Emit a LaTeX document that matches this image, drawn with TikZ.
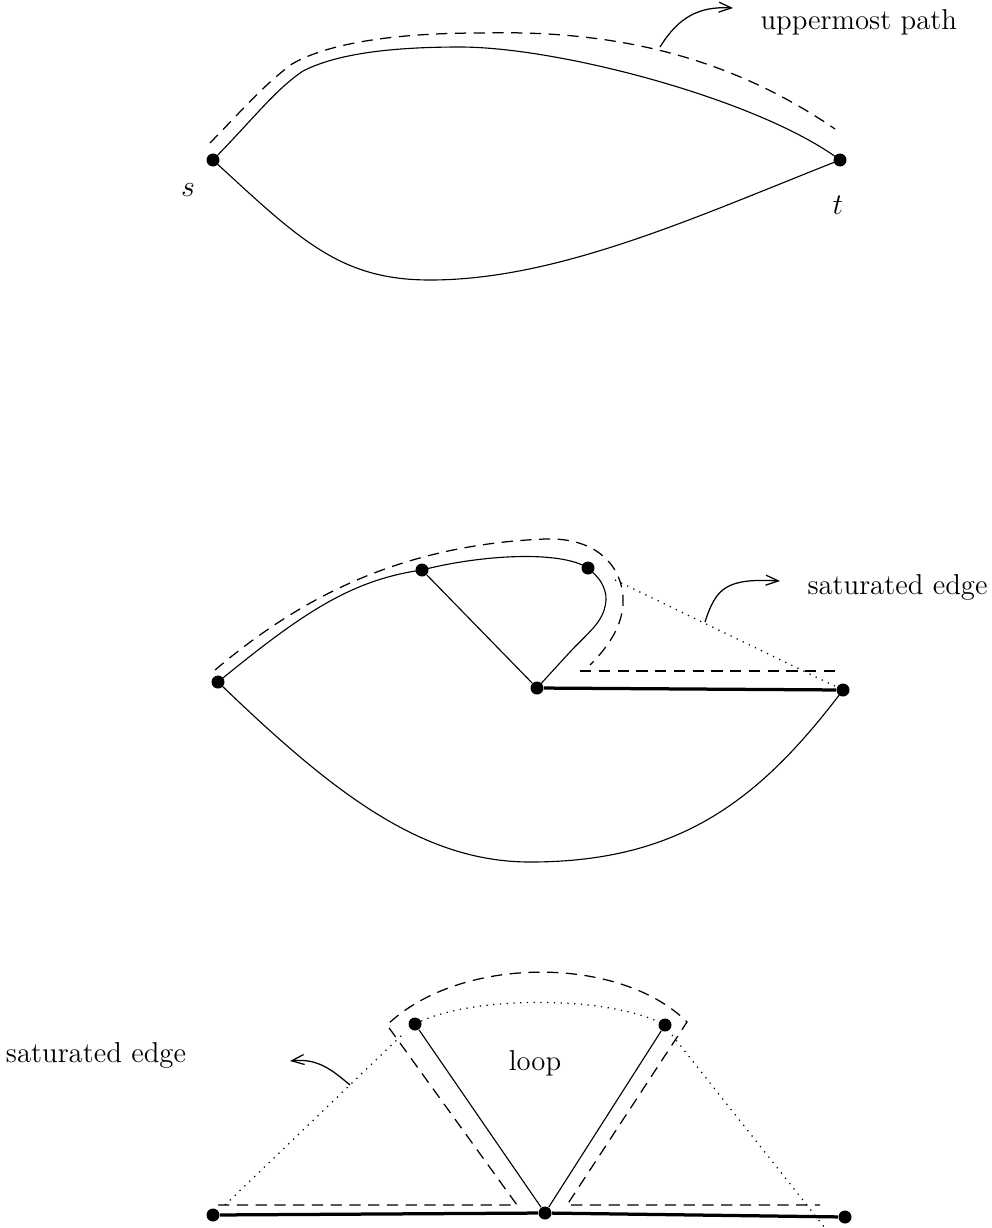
\documentclass[tikz,border=0pt]{standalone}
\usetikzlibrary{arrows.meta}
\begin{document}
\begin{tikzpicture}[x=0.4pt,y=-0.4pt,
  dot/.style={circle,fill=black,inner sep=0pt,minimum size=5.2pt},
  plain/.style={line width=0.45pt},
  heavy/.style={line width=1.3pt},
  dashline/.style={line width=0.5pt,dash pattern=on 4.5pt off 3pt},
  dotline/.style={line width=0.5pt,dash pattern=on 0.5pt off 2.2pt},
  pointer/.style={line width=0.5pt,-{Straight Barb[length=5pt,width=4pt]}},
  lbl/.style={font=\fontsize{11.5}{13}\selectfont,inner sep=0pt}]
\useasboundingbox (0,0) rectangle (992,1228);

% ---------- top diagram ----------
\node[dot] (s) at (213,160) {};
\node[dot] (t) at (840,160) {};
\node[lbl] (sl) at (188,190) {$s$};
\node[lbl] (tl) at (838,205) {$t$};
\draw[plain] (s.center) .. controls (255,117) and (275,90) .. (303,71)
  .. controls (340,52) and (400,47) .. (460,47)
  .. controls (560,47) and (760,100) .. (t.center);
\draw[plain] (s.center) .. controls (300,240) and (340,280) .. (430,280)
  .. controls (560,280) and (700,215) .. (t.center);
\draw[dashline] (210,143) .. controls (245,107) and (265,84) .. (292,64)
  .. controls (330,42) and (400,33) .. (480,33)
  .. controls (600,30) and (720,50) .. (835,129);
\coordinate (p1) at (660,47);
\node[lbl,anchor=west] (up) at (760,22) {uppermost path};
\draw[pointer] (p1) .. controls (678,18) and (698,6) .. (733,8);

% ---------- middle diagram ----------
\node[dot] (s2) at (218,682) {};
\node[dot] (a) at (422,570) {};
\node[dot] (b) at (588,568) {};
\node[dot] (c) at (537,688) {};
\node[dot] (t2) at (843,690) {};
\draw[plain] (s2.center) .. controls (300,615) and (350,580) .. (a.center);
\draw[plain] (a.center) .. controls (480,555) and (560,550) .. (b.center);
\draw[plain] plot[smooth,tension=0.6] coordinates {(b.center) (601,582) (606,600) (598,622) (570,652) (c.center)};
\draw[plain] (a) -- (c);
\draw[heavy] (c) -- (t2);
\draw[plain] (s2.center) .. controls (330,790) and (420,862) .. (530,862)
  .. controls (680,862) and (760,800) .. (t2.center);
\draw[dashline] (215,670) .. controls (300,598) and (400,545) .. (545,539)
  .. controls (600,537) and (625,570) .. (623,605)
  .. controls (621,630) and (605,650) .. (590,665);
\draw[dashline] (580,671) -- (840,671);
\coordinate (d1) at (615,580);
\draw[dotline] (d1) -- (t2);
\coordinate (p2) at (705,622);
\node[lbl,anchor=west] (sat1) at (807,587) {saturated edge};
\draw[pointer] (p2) .. controls (716,588) and (726,578) .. (780,581);

% ---------- bottom diagram ----------
\node[dot] (L) at (213,1215) {};
\node[dot] (M) at (545,1213) {};
\node[dot] (R) at (845,1217) {};
\node[dot] (A) at (415,1024) {};
\node[dot] (B) at (665,1025) {};
\draw[heavy] (L) -- (M) -- (R);
\draw[plain] (A) -- (M);
\draw[plain] (B) -- (M);
\draw[dotline] (A.center) .. controls (470,995) and (610,995) .. (B.center);
\draw[dashline] (218,1205) -- (517,1205) -- (387,1025)
  .. controls (460,955) and (620,955) .. (687,1022) -- (567,1205) -- (820,1205);
\coordinate (d2) at (225,1205);
\coordinate (d3) at (404,1033);
\draw[dotline] (d2) -- (d3);
\coordinate (d4) at (672,1035);
\coordinate (d5) at (825,1228);
\draw[dotline] (d4) -- (d5);
\node[lbl] (loop) at (535,1063) {loop};
\coordinate (p3) at (350,1085);
\node[lbl] (sat2) at (96,1055) {saturated edge};
\draw[pointer] (p3) .. controls (332,1070) and (318,1058) .. (290,1061);
\end{tikzpicture}
\end{document}
